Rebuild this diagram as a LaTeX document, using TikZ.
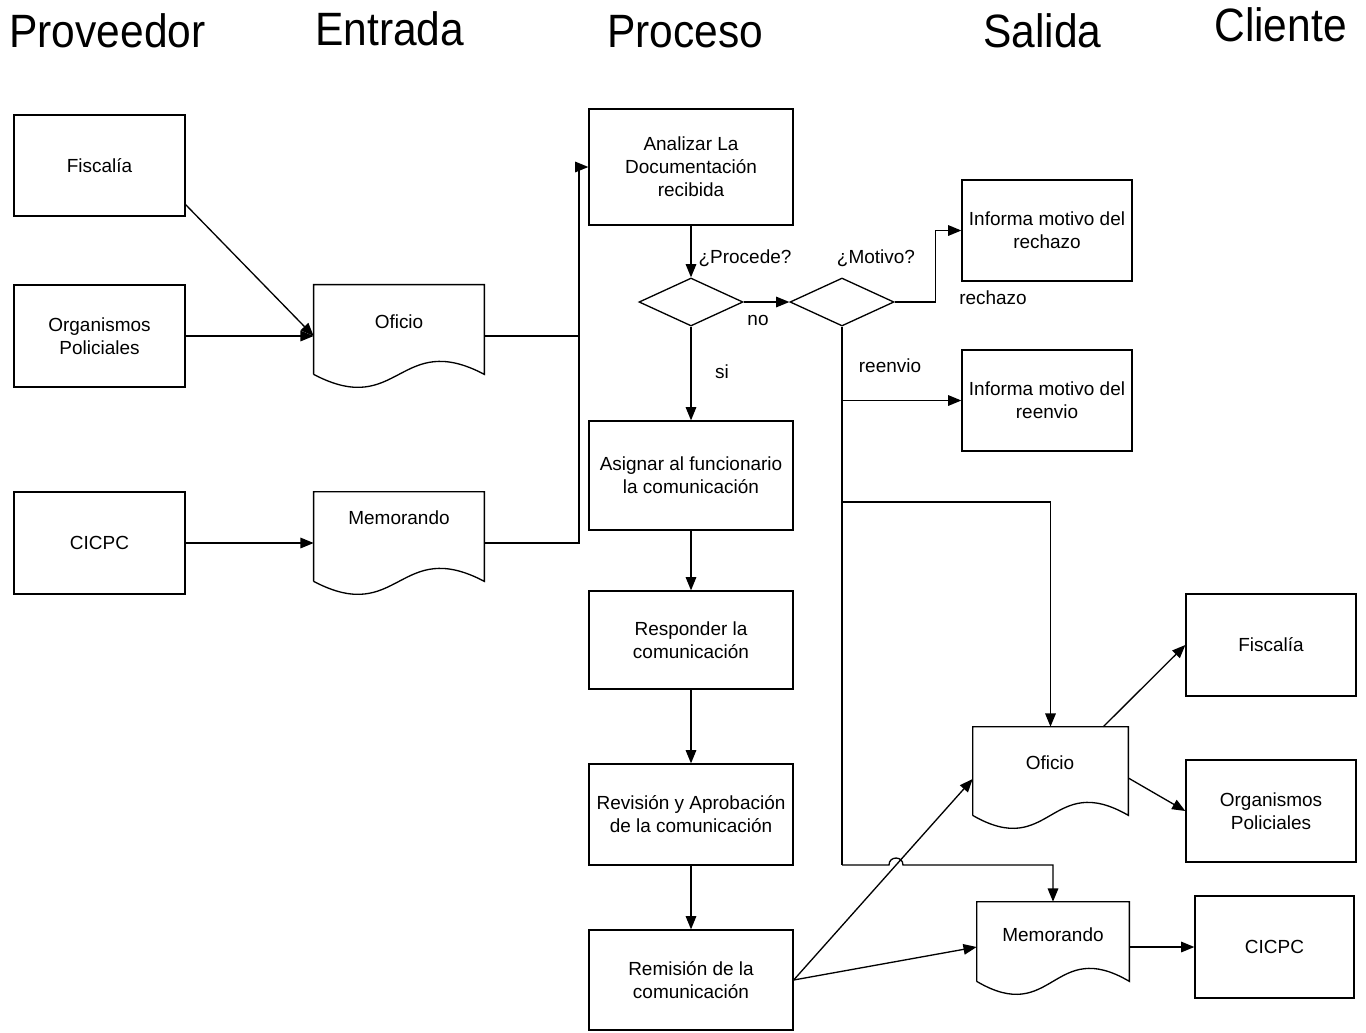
\documentclass[tikz,border=0pt]{standalone}
\usepackage{fontspec}
\setmainfont{Liberation Sans}
\usetikzlibrary{arrows.meta,shapes.geometric,calc}

\newcommand{\bxfont}{\fontsize{10.8pt}{13pt}\selectfont}
\newcommand{\ttlfont}{\fontsize{24.2pt}{28pt}\selectfont}
% outline of a document symbol drawn around a (frameless) node
\newcommand{\docoutline}[1]{%
  \draw[lw] (#1.south west) -- (#1.north west) -- (#1.north east) -- (#1.south east)
    .. controls ($(#1.south)+(0,-45)$) and ($(#1.south)+(0,45)$) .. (#1.south west);}

\begin{document}
\begin{tikzpicture}[x=0.02cm,y=-0.02cm,
  lw/.style={line width=0.75pt},
  sz/.style 2 args={minimum width=#1*0.02cm, minimum height=#2*0.02cm},
  stepbox/.style={draw, lw, inner sep=0pt, align=center, font=\bxfont},
  docframe/.style={inner sep=0pt},
  doctext/.style={font=\bxfont, inner sep=0pt},
  decision/.style={diamond, draw, lw, inner sep=0pt, sz={104}{48}},
  lbl/.style={font=\bxfont, inner sep=0pt},
  title/.style={font=\ttlfont, inner sep=0pt, anchor=base west},
  arr/.style={lw, -{Triangle[length=7.5pt,width=6pt]}},
  conn/.style={lw},
]
\fill[white] (0,0) rectangle (1366,1032);
\useasboundingbox (0,0) rectangle (1366,1032);

% column headings
\node[title] (tprov) at (9,47)    {\scalebox{1}[1.1]{Proveedor}};
\node[title] (tent)  at (315,45)  {\scalebox{1}[1.1]{Entrada}};
\node[title] (tproc) at (607,47)  {\scalebox{1}[1.1]{Proceso}};
\node[title] (tsal)  at (983,47)  {\scalebox{1}[1.1]{Salida}};
\node[title] (tcli)  at (1214,41) {\scalebox{1}[1.1]{Cliente}};

% suppliers
\node[stepbox, sz={171}{101}] (fis) at (99.5,165.5) {Fiscalía};
\node[stepbox, sz={171}{102}] (org) at (99.5,336) {Organismos\\Policiales};
\node[stepbox, sz={171}{102}] (cic) at (99.5,543) {CICPC};

% inputs
\node[docframe, sz={170}{89}] (oe) at (399,329.5) {};
\docoutline{oe}
\node[doctext] (oe-t) at (399,322) {Oficio};
\node[docframe, sz={170}{89}] (me) at (399,536.5) {};
\docoutline{me}
\node[doctext] (me-t) at (399,518) {Memorando};

% process
\node[stepbox, sz={204}{116}] (an)  at (691,167)   {Analizar La\\Documentación\\recibida};
\node[decision] (d1) at (691,302) {};
\node[decision] (d2) at (842,302) {};
\node[stepbox, sz={204}{109}] (as)  at (691,475.5) {Asignar al funcionario\\la comunicación};
\node[stepbox, sz={204}{98}]  (rs)  at (691,640)   {Responder la\\comunicación};
\node[stepbox, sz={204}{101}] (rev) at (691,814.5) {Revisión y Aprobación\\de la comunicación};
\node[stepbox, sz={204}{100}] (rem) at (691,980)   {Remisión de la\\comunicación};

% outputs
\node[stepbox, sz={170}{101}] (irz) at (1047,230.5) {Informa motivo del\\rechazo};
\node[stepbox, sz={170}{101}] (irv) at (1047,400.5) {Informa motivo del\\reenvio};
\node[docframe, sz={155}{88}] (os) at (1050.5,771) {};
\docoutline{os}
\node[doctext] (os-t) at (1050,763) {Oficio};
\node[docframe, sz={152}{79}] (ms) at (1053,941.5) {};
\docoutline{ms}
\node[doctext] (ms-t) at (1053,935) {Memorando};

% clients
\node[stepbox, sz={170}{102}] (fc)  at (1271,645)   {Fiscalía};
\node[stepbox, sz={170}{102}] (oc)  at (1271,811)   {Organismos\\Policiales};
\node[stepbox, sz={159}{102}] (cc2) at (1274.5,947) {CICPC};

% branch labels
\node[lbl] (lproc) at (745,258) {¿Procede?};
\node[lbl] (lno)   at (758,320) {no};
\node[lbl] (lsi)   at (722,372) {si};
\node[lbl] (lmot)  at (876,258) {¿Motivo?};
\node[lbl] (lrz)   at (993,298) {rechazo};
\node[lbl] (lrv)   at (890,366) {reenvio};

% helper points
\coordinate (bus) at (579,0);
\coordinate (jo) at (0,502);
\coordinate (jn) at (0,865);
\coordinate (hopA) at (889,865);
\coordinate (hopB) at (903,865);

% suppliers -> inputs
\draw[arr] ($(fis.south east)+(0,-12)$) -- (oe.west |- org);
\draw[arr] (org.east) -- (oe.west |- org);
\draw[arr] (cic.east) -- (me.west |- cic);

% inputs -> analysis
\draw[arr] (oe.east |- org) -- (bus |- org) -- (bus |- an.west) -- (an.west);
\draw[conn] (me.east |- cic) -- (bus |- cic) -- (bus |- org);

% process chain
\draw[arr] (an.south) -- (d1.north);
\draw[arr] (d1.east) -- (d2.west);
\draw[arr] (d1.south) -- (as.north);
\draw[arr] (as.south) -- (rs.north);
\draw[arr] (rs.south) -- (rev.north);
\draw[arr] (rev.south) -- (rem.north);

% decision on the reason
\draw[arr] (d2.east) -- ++(41,0) |- (irz.west);
\draw[conn] (d2.south) -- (d2.south |- jn);
\draw[arr] (d2.south |- irv.west) -- (irv.west);
\draw[arr] (d2.south |- jo) -| (os.north);
\draw[arr] (d2.south |- jn) -- (hopA)
  .. controls ($(hopA)+(0,-9.3)$) and ($(hopB)+(0,-9.3)$) .. (hopB)
  -- (ms.north |- jn) -- (ms.north);

% dispatch -> outputs
\draw[arr] (rem.east) -- ($(os.west)+(0,8)$);
\draw[arr] (rem.east) -- (ms.west |- cc2);

% outputs -> clients
\draw[arr] ($(os.north east)+(-25,0)$) -- (fc.west);
\draw[arr] ($(os.east)+(0,7)$) -- (oc.west);
\draw[arr] (ms.east |- cc2) -- (cc2.west);
\end{tikzpicture}
\end{document}
